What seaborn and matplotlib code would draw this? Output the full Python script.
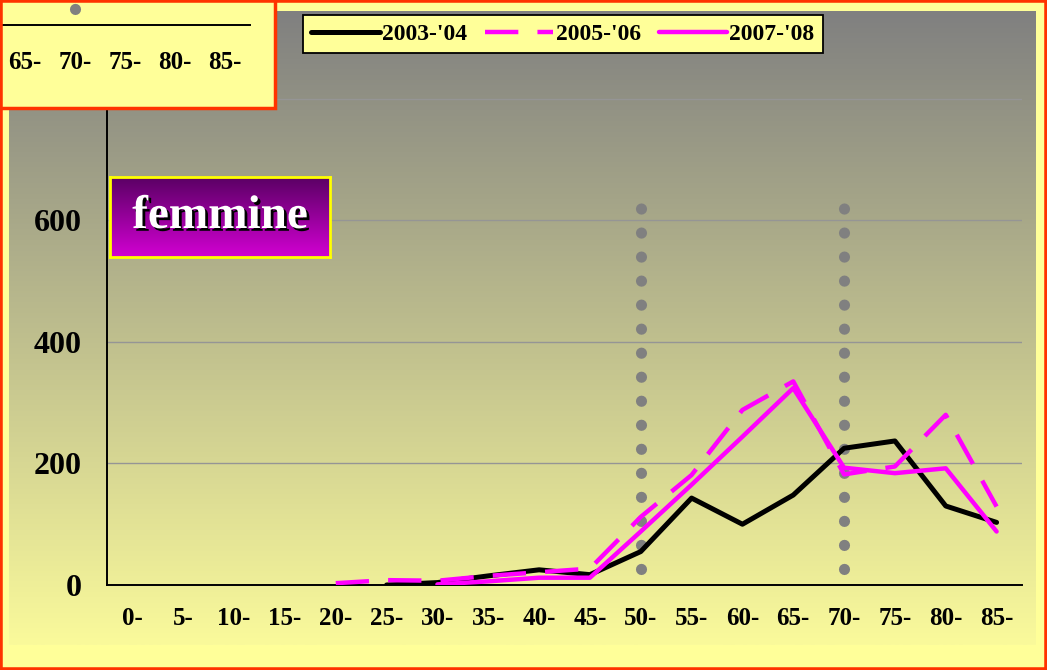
import numpy as np
import pandas as pd
import matplotlib
matplotlib.use('Agg')
import matplotlib.pyplot as plt
import matplotlib.patheffects as pe
from matplotlib.patches import Rectangle
import seaborn as sns

# categories (age classes) and the three series
categories = ['0-', '5-', '10-', '15-', '20-', '25-', '30-', '35-', '40-',
              '45-', '50-', '55-', '60-', '65-', '70-', '75-', '80-', '85-']
nan = np.nan
y_2003 = [nan, nan, nan, nan, nan, 0, 4, 15, 25, 17, 55, 143, 100, 148, 225, 237, 130, 103]
y_2005 = [nan, nan, nan, nan, 3, 8, 7, 15, 21, 27, 112, 181, 288, 335, 182, 195, 280, 129]
y_2007 = [nan, nan, nan, nan, nan, nan, 1, 6, 12, 12, 88, 165, 244, 324, 193, 184, 192, 88]
series_names = ["2003-'04", "2005-'06", "2007-'08"]
marker_cats = ['50-', '70-']
y_ticks = [0, 200, 400, 600, 800]
inset_cats = ['65-', '70-', '75-', '80-', '85-']

W, H = 1047, 670
FONT = 'Liberation Serif'

sns.set_style('white')
plt.rcParams['font.family'] = [FONT, 'DejaVu Serif']
plt.rcParams['font.weight'] = 'bold'
for k in ['text.color', 'xtick.color', 'ytick.color', 'axes.labelcolor']:
    plt.rcParams[k] = 'black'

fig = plt.figure(figsize=(W / 100, H / 100), dpi=100)
fig.patch.set_facecolor('#FFFF99')

def box(x0, y0, x1, y1):
    # pixel box (top-left origin) -> figure fraction rect
    return [x0 / W, 1 - y1 / H, (x1 - x0) / W, (y1 - y0) / H]

# gradient chart area
bg = fig.add_axes(box(9, 11, 1036, 645), zorder=-1)
c_top = np.array([128, 128, 128]) / 255
c_bot = np.array([250, 250, 155]) / 255
t = np.linspace(0, 1, 256)[:, None]
grad = (c_top[None, :] * (1 - t) + c_bot[None, :] * t)[:, None, :]
bg.imshow(grad, aspect='auto', extent=[0, 1, 0, 1], origin='upper')
bg.axis('off')

# main axes
ax = fig.add_axes(box(107, 38, 1022, 585), zorder=1)
ax.patch.set_alpha(0)

pos = np.arange(len(categories))
df = pd.DataFrame({'pos': pos, series_names[0]: y_2003,
                   series_names[1]: y_2005, series_names[2]: y_2007})
long = df.melt(id_vars='pos', var_name='serie', value_name='val').dropna()

sns.lineplot(data=long, x='pos', y='val', hue='serie', style='serie',
             hue_order=series_names, style_order=series_names,
             palette={series_names[0]: 'black', series_names[1]: '#FF00FF',
                      series_names[2]: '#FF00FF'},
             dashes={series_names[0]: '', series_names[1]: (7.5, 4.3),
                     series_names[2]: ''},
             lw=3.2, legend=False, ax=ax, zorder=3)
handles = ax.get_lines()[:3]
handles[0].set_linewidth(3.6)

# gray dotted markers
DOT_LW = 8
DOT_STYLE = (0, (0.01, 17.3 / DOT_LW - 0.01))
for c in marker_cats:
    xi = categories.index(c)
    ax.plot([xi, xi], [26, 620], color='#808080', lw=DOT_LW,
            linestyle=DOT_STYLE, dash_capstyle='round', zorder=2)

ax.set_xlim(-0.5, len(categories) - 0.5)
ax.set_ylim(0, 900)
ax.set_xticks(pos)
ax.set_xticklabels(categories)
ax.set_xticks(np.arange(-0.5, len(categories)), minor=True)
ax.tick_params(axis='x', which='major', length=0, pad=16, labelsize=18)
ax.tick_params(axis='x', which='minor', length=6, width=1.3, direction='out', color='black')
ax.set_yticks(y_ticks)
ax.set_yticklabels([str(v) for v in y_ticks])
ax.tick_params(axis='y', length=7, width=1.3, direction='out', pad=11, labelsize=23, color='black')
ax.grid(axis='y', color='#959595', lw=1)
ax.grid(axis='x', visible=False)
ax.set_axisbelow(True)
for s in ['top', 'right']:
    ax.spines[s].set_visible(False)
for s in ['left', 'bottom']:
    ax.spines[s].set_color('black')
    ax.spines[s].set_linewidth(1.4)
ax.set_xlabel('')
ax.set_ylabel('')

leg = ax.legend(handles, series_names, loc='upper left', ncol=3,
                bbox_to_anchor=(303 / W, 1 - 15 / H), bbox_transform=fig.transFigure,
                frameon=True, fancybox=False, framealpha=1, facecolor='#FFFF99',
                edgecolor='black', prop={'family': FONT, 'weight': 'bold', 'size': 17},
                handlelength=2.9, handletextpad=0.1, columnspacing=0.75,
                borderpad=0.35, borderaxespad=0)
leg.get_frame().set_linewidth(1.3)
leg.set_zorder(10)

# "femmine" label box
lab = fig.add_axes(box(110, 177, 330, 257), zorder=4)
c1 = np.array([90, 0, 100]) / 255
c2 = np.array([210, 0, 210]) / 255
g2 = (c1[None, :] * (1 - t) + c2[None, :] * t)[:, None, :]
lab.imshow(g2, aspect='auto', extent=[0, 1, 0, 1], origin='upper')
lab.set_xticks([])
lab.set_yticks([])
for s in lab.spines.values():
    s.set_color('#FFFF00')
    s.set_linewidth(2)
lab.text(0.5, 0.5, 'femmine', ha='center', va='center', color='white',
         fontsize=34, fontweight='bold', family=FONT,
         path_effects=[pe.SimplePatchShadow(offset=(2, -2), shadow_rgbFace='black', alpha=1),
                       pe.Normal()])

# leftover piece of the other chart, top-left
fig.patches.append(Rectangle((-0.01, 1 - 108 / H), 275 / W + 0.01, 108 / H + 0.01,
                             transform=fig.transFigure, facecolor='#FFFF99',
                             edgecolor='#FF3300', lw=2.5, zorder=5))
ins = fig.add_axes(box(0, 0, 250, 25), zorder=6)
ins.patch.set_alpha(0)
ins_pos = [categories.index(c) for c in inset_cats]
ins.set_xlim(12.59, 17.5)
ins.set_ylim(0, 41)
ins.set_xticks(ins_pos)
ins.set_xticklabels(inset_cats)
ins.set_xticks(np.arange(12.5, 18), minor=True)
ins.tick_params(axis='x', which='major', length=0, pad=19, labelsize=18)
ins.tick_params(axis='x', which='minor', length=6, width=1.3, direction='out', color='black')
ins.set_yticks([])
for s in ['top', 'right', 'left']:
    ins.spines[s].set_visible(False)
ins.spines['bottom'].set_color('black')
ins.spines['bottom'].set_linewidth(1.4)
for c in marker_cats:
    xi = categories.index(c)
    ins.plot([xi, xi], [26, 620], color='#808080', lw=DOT_LW,
             linestyle=DOT_STYLE, dash_capstyle='round')

# outer border
fig.patches.append(Rectangle((0, 0), 1, 1, transform=fig.transFigure, fill=False,
                             edgecolor='#FF3300', lw=4, zorder=20))

fig.savefig('out.png', dpi=100, facecolor=fig.get_facecolor())
